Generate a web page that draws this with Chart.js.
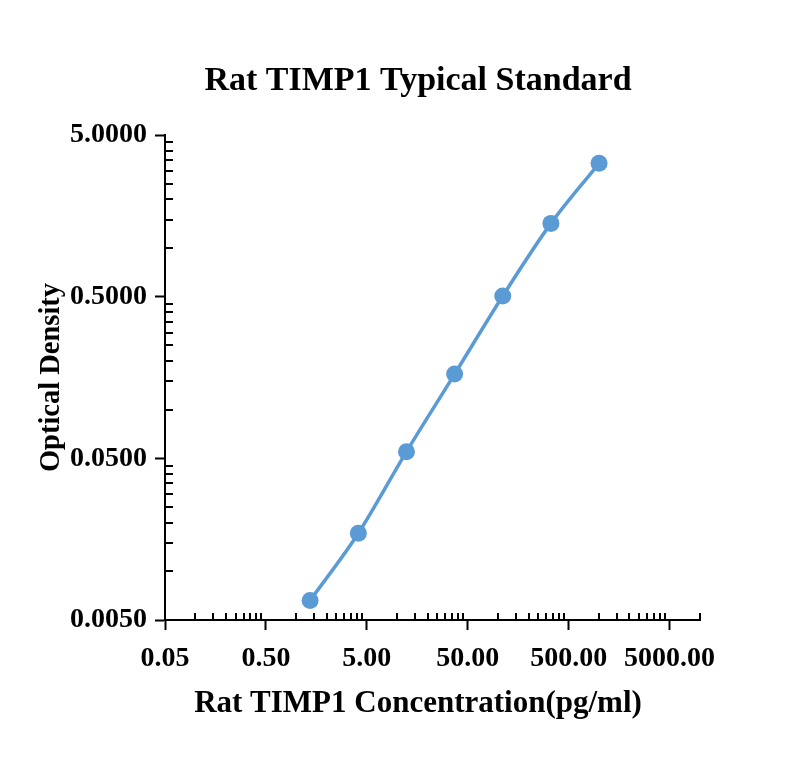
<!DOCTYPE html>
<html lang="en">
<head>
    <meta charset="UTF-8">
    <title>Rat TIMP1 Typical Standard</title>
    <script src="https://cdn.jsdelivr.net/npm/chart.js"></script>
    <style>
        body {
            margin: 0;
            background-color: #ffffff;
        }
        #chart {
            display: block;
        }
    </style>
</head>
<body>

<canvas id="chart" width="800" height="780" style="width:800px;height:780px;"></canvas>

<script>
    // standard curve readings (pg/ml vs OD)
    const concentrations = [1.37, 4.12, 12.35, 37.04, 111.11, 333.33, 1000];
    const opticalDensity = [0.0066, 0.0172, 0.055, 0.166, 0.505, 1.42, 3.34];

    const xMajorTicks = [0.05, 0.5, 5, 50, 500, 5000];
    const yMajorTicks = [0.005, 0.05, 0.5, 5];
    const minorSteps = [2, 3, 4, 5, 6, 7, 8, 9];

    const xMin = 0.05, xMax = 10000;
    const yMin = 0.005, yMax = 5;

    const serif = "'Liberation Serif', 'Times New Roman', serif";
    const lineColor = '#5b9bd5';

    function minorValues(majors, max) {
        const out = [];
        majors.forEach(b => {
            minorSteps.forEach(m => {
                const v = b * m;
                if (v <= max * 1.0001) out.push(v);
            });
        });
        return out;
    }

    const xMinorTicks = minorValues(xMajorTicks, xMax);
    const yMinorTicks = minorValues(yMajorTicks.slice(0, -1), yMax);

    // inward minor ticks on both axes
    const minorTickPlugin = {
        id: 'minorTicks',
        afterDraw(chart) {
            const ctx = chart.ctx;
            const area = chart.chartArea;
            const xs = chart.scales.x;
            const ys = chart.scales.y;
            ctx.save();
            ctx.strokeStyle = '#000000';
            ctx.lineWidth = 2;
            ctx.beginPath();
            xMinorTicks.forEach(v => {
                const px = Math.round(xs.getPixelForValue(v));
                ctx.moveTo(px, area.bottom);
                ctx.lineTo(px, area.bottom - 7);
            });
            yMinorTicks.forEach(v => {
                const py = Math.round(ys.getPixelForValue(v));
                ctx.moveTo(area.left, py);
                ctx.lineTo(area.left + 8, py);
            });
            ctx.stroke();
            ctx.restore();
        }
    };

    const points = concentrations.map((c, i) => ({ x: c, y: opticalDensity[i] }));

    new Chart(document.getElementById('chart'), {
        type: 'scatter',
        data: {
            datasets: [{
                data: points,
                showLine: true,
                borderColor: lineColor,
                backgroundColor: lineColor,
                borderWidth: 3.5,
                pointRadius: 8.5,
                pointHoverRadius: 8.5,
                pointBorderWidth: 0,
                cubicInterpolationMode: 'monotone'
            }]
        },
        options: {
            responsive: false,
            animation: false,
            devicePixelRatio: 1,
            layout: {
                padding: { left: 36, right: 0, top: 0, bottom: 0 }
            },
            plugins: {
                legend: { display: false },
                tooltip: { enabled: false },
                title: {
                    display: true,
                    text: 'Rat TIMP1 Typical Standard',
                    color: '#000000',
                    font: { family: serif, size: 34, weight: 'bold', lineHeight: 1.2 },
                    padding: { top: 61, bottom: 33.2 }
                },
                subtitle: {
                    display: true,
                    position: 'bottom',
                    text: 'Rat TIMP1 Concentration(pg/ml)',
                    color: '#000000',
                    font: { family: serif, size: 31, weight: 'bold', lineHeight: 1.2 },
                    padding: { top: 15.4, bottom: 57.4 }
                }
            },
            scales: {
                x: {
                    type: 'logarithmic',
                    min: xMin,
                    max: xMax,
                    afterBuildTicks: scale => {
                        scale.ticks = xMajorTicks.map(v => ({ value: v }));
                    },
                    afterFit: scale => { scale.height = 50; },
                    ticks: {
                        autoSkip: false,
                        maxRotation: 0,
                        color: '#000000',
                        padding: 12,
                        font: { family: serif, size: 28, weight: 'bold', lineHeight: 1.2 },
                        callback: v => Number(v).toFixed(2)
                    },
                    grid: {
                        drawOnChartArea: false,
                        drawTicks: true,
                        tickLength: 10,
                        tickWidth: 2,
                        tickColor: '#000000'
                    },
                    border: { display: true, color: '#000000', width: 2 }
                },
                y: {
                    type: 'logarithmic',
                    min: yMin,
                    max: yMax,
                    afterBuildTicks: scale => {
                        scale.ticks = yMajorTicks.map(v => ({ value: v }));
                    },
                    afterFit: scale => { scale.width = 129; },
                    ticks: {
                        autoSkip: false,
                        color: '#000000',
                        padding: 8,
                        font: { family: serif, size: 28, weight: 'bold', lineHeight: 1.2 },
                        callback: v => Number(v).toFixed(4)
                    },
                    grid: {
                        drawOnChartArea: false,
                        drawTicks: true,
                        tickLength: 10,
                        tickWidth: 2,
                        tickColor: '#000000'
                    },
                    border: { display: true, color: '#000000', width: 2 },
                    title: {
                        display: true,
                        text: 'Optical Density',
                        color: '#000000',
                        font: { family: serif, size: 28.5, weight: 'bold', lineHeight: 1 },
                        padding: { top: 1.4, bottom: 0 }
                    }
                },
                y2: {
                    position: 'right',
                    display: true,
                    afterFit: scale => { scale.width = 100; },
                    ticks: { display: false },
                    grid: { display: false },
                    border: { display: false }
                }
            }
        },
        plugins: [minorTickPlugin]
    });
</script>

</body>
</html>
